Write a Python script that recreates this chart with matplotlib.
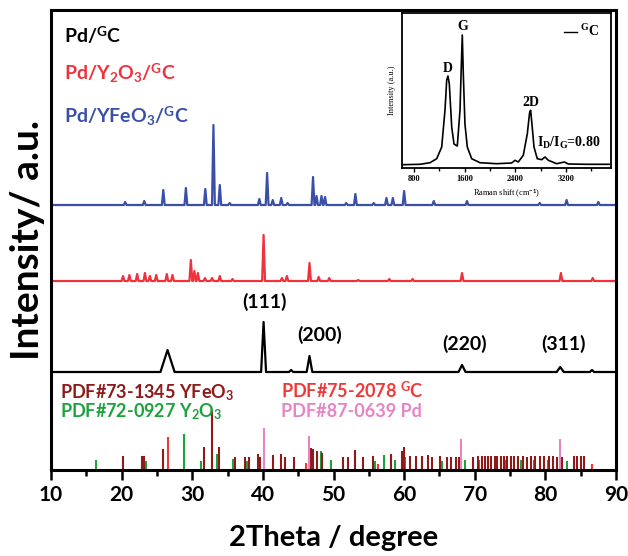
import numpy as np
import matplotlib.pyplot as plt
from matplotlib.ticker import MultipleLocator

plt.rcParams['font.family'] = ['Lato', 'DejaVu Sans']
plt.rcParams['font.weight'] = 'bold'
plt.rcParams['mathtext.fontset'] = 'custom'
plt.rcParams['mathtext.rm'] = 'Lato:bold'
plt.rcParams['mathtext.bf'] = 'Lato:bold'
plt.rcParams['mathtext.it'] = 'Liberation Serif:bold'

# XRD patterns: peak position (2theta) and peak height above baseline
blue_base = 265
blue_pos = [20.5, 23.2, 25.9, 29.1, 31.85, 33.0, 33.9, 35.3, 39.5, 40.6, 41.4, 42.6, 43.5,
            47.1, 47.6, 48.3, 48.8, 51.8, 53.1, 55.7, 57.5, 58.4, 60.0, 64.2, 68.9, 79.2,
            83.0, 87.5]
blue_h = [3, 4, 15, 17, 16, 80, 20, 2, 6, 32, 5, 7, 2,
          28, 9, 9, 8, 2, 11, 2, 7, 7, 14, 4, 4, 2,
          5, 3]

red_base = 189
red_pos = [20.2, 21.1, 22.2, 23.3, 24.0, 24.9, 26.4, 27.2, 29.8, 30.3, 30.8, 31.8, 32.8,
           33.9, 35.7, 40.1, 42.7, 43.4, 46.6, 47.9, 49.4, 53.5, 57.9, 61.2, 68.2, 82.2, 86.7]
red_h = [5, 6, 7, 8, 5, 6, 7, 6, 21, 10, 8, 3, 3,
         5, 2, 46, 3, 5, 18, 4, 3, 1, 2, 2, 8, 8, 3]

black_base = 98
black_pos = [26.5, 40.1, 44.0, 46.6, 68.2, 82.1, 86.6]
black_h = [22, 50, 2, 16, 7, 5, 2]
black_w = [1.0, 0.35, 0.3, 0.4, 0.5, 0.5, 0.3]

# reference cards
yfeo3_pos = [20.2, 22.9, 23.2, 25.8, 31.7, 32.85, 33.8, 36.0, 37.4, 38.1, 39.3, 39.6,
             41.4, 42.5, 43.1, 44.4, 46.8, 47.1, 47.7, 48.4, 51.4, 52.0, 53.0, 54.2,
             55.6, 58.1, 59.7, 60.0, 60.9, 61.7, 62.5, 63.4, 64.0, 65.1, 66.1, 66.7,
             67.3, 67.8, 69.8, 70.4, 71.0, 71.4, 71.9, 72.3, 72.8, 73.2, 73.7, 74.1,
             74.6, 75.1, 75.6, 76.1, 76.9, 77.4, 78.0, 78.6, 79.2, 79.8, 80.5, 81.1,
             81.6, 82.3, 84.0, 84.5, 85.0, 85.5]
yfeo3_h = [14, 14, 14, 21, 23, 60, 23, 13, 13, 13, 16, 13,
           15, 16, 13, 13, 22, 21, 19, 17, 13, 13, 20, 13,
           14, 16, 19, 23, 14, 14, 14, 15, 13, 14, 13, 13,
           13, 13, 13, 14, 14, 14, 14, 14, 14, 14, 14, 14,
           14, 14, 14, 14, 14, 13, 14, 14, 14, 14, 14, 14,
           13, 13, 14, 14, 14, 14]
y2o3_pos = [16.4, 23.5, 28.9, 31.2, 33.5, 35.7, 37.8, 43.1, 46.5, 48.2, 49.7, 55.9,
            57.2, 58.7, 60.1, 62.6, 65.3, 68.6, 70.6, 72.3, 74.3, 76.6, 78.4, 80.4, 83.1]
y2o3_h = [10, 9, 36, 9, 16, 11, 9, 10, 13, 19, 10, 9,
          15, 10, 13, 10, 9, 10, 10, 10, 10, 10, 10, 10, 9]
gc_pos = [26.5, 46.1, 56.3, 86.6]
gc_h = [33, 7, 6, 6]
pd_pos = [40.15, 46.6, 68.1, 82.1]
pd_h = [42, 34, 31, 31]

# Raman spectrum of GC (inset)
raman_x = [622, 895, 1052, 1158, 1237, 1289, 1316, 1336, 1357, 1395, 1431, 1483, 1526,
           1546, 1562, 1578, 1604, 1641, 1710, 1841, 2104, 2341, 2394, 2446, 2525, 2588,
           2626, 2641, 2662, 2694, 2746, 2815, 2868, 2920, 3053, 3173, 3236, 3526, 3889]
raman_y = [3.3, 3.7, 5.3, 9.3, 21, 58, 88, 92, 84, 41, 24, 22, 58,
           101, 133, 94, 44, 21, 9.3, 5.3, 4.3, 5, 7.7, 6, 12.7, 34,
           56, 57.7, 44, 21, 9.3, 8.3, 11, 7.7, 4.3, 6, 4, 3.7, 3.7]


def spikes(base, pos, h, w):
    xs, ys = [10], [base]
    for p, hh, ww in zip(pos, h, w):
        xs += [p - ww, p, p + ww]
        ys += [base, base + hh, base]
    xs.append(90)
    ys.append(base)
    return xs, ys


fig = plt.figure(figsize=(6.28, 5.56), dpi=100)
ax = fig.add_axes([51 / 628, 86 / 556, 565 / 628, 460 / 556])

bx, by = spikes(blue_base, blue_pos, blue_h, [0.2] * len(blue_pos))
rx, ry = spikes(red_base, red_pos, red_h, [0.2] * len(red_pos))
kx, ky = spikes(black_base, black_pos, black_h, black_w)
ax.plot(bx, by, color='#3a50a8', lw=1.6)
ax.plot(rx, ry, color='#f0323c', lw=1.6)
ax.plot(kx, ky, color='black', lw=1.6)

ax.vlines(y2o3_pos, 0, y2o3_h, color='#1ea23e', lw=1.5)
ax.vlines(gc_pos, 0, gc_h, color='#f03838', lw=1.5)
ax.vlines(yfeo3_pos, 0, yfeo3_h, color='#8e1a1a', lw=1.5)
ax.vlines(pd_pos, 0, pd_h, color='#e684c4', lw=1.5)

ax.set_xlim(10, 90)
ax.set_ylim(0, 460)
ax.set_yticks([])
ax.xaxis.set_major_locator(MultipleLocator(10))
ax.xaxis.set_minor_locator(MultipleLocator(5))
ax.tick_params(axis='x', which='major', direction='out', length=7, width=1.8, labelsize=15)
ax.tick_params(axis='x', which='minor', direction='out', length=4, width=1.8)
for s in ax.spines.values():
    s.set_linewidth(2.2)
ax.set_xlabel('2Theta / degree', fontsize=21, fontweight='bold', labelpad=15)
ax.set_ylabel('Intensity/ a.u.', fontsize=28, fontweight='bold', labelpad=4)

fs = 14
ax.text(11.8, 427, 'Pd/$^\\mathrm{G}$C', color='black', fontsize=fs)
ax.text(11.8, 390, 'Pd/Y$_2$O$_3$/$^\\mathrm{G}$C', color='#f0323c', fontsize=fs)
ax.text(11.8, 347, 'Pd/YFeO$_3$/$^\\mathrm{G}$C', color='#3a50a8', fontsize=fs)

ax.text(40.3, 168, '(111)', ha='center', va='center', fontsize=14)
ax.text(48.1, 135, '(200)', ha='center', va='center', fontsize=14)
ax.text(68.6, 126, '(220)', ha='center', va='center', fontsize=14)
ax.text(82.5, 126, '(311)', ha='center', va='center', fontsize=14)

pf = 13
ax.text(11.3, 72, 'PDF#73-1345 YFeO$_3$', color='#8e1a1a', fontsize=pf)
ax.text(11.3, 53, 'PDF#72-0927 Y$_2$O$_3$', color='#1ea23e', fontsize=pf)
ax.text(42.5, 72, 'PDF#75-2078 $^\\mathrm{G}$C', color='#f03838', fontsize=pf)
ax.text(42.5, 53, 'PDF#87-0639 Pd', color='#e684c4', fontsize=pf)

# inset
ins = fig.add_axes([402 / 628, (556 - 168) / 556, 209 / 628, 155 / 556])
ins.plot(raman_x, raman_y, color='black', lw=1.2)
ins.set_xlim(610, 3910)
ins.set_ylim(0, 155)
ins.set_yticks([])
ins.xaxis.set_major_locator(MultipleLocator(800))
ins.xaxis.set_minor_locator(MultipleLocator(400))
ins.tick_params(axis='x', which='major', direction='out', length=3, width=1, labelsize=6, pad=2)
ins.tick_params(axis='x', which='minor', direction='out', length=2, width=1)
for t in ins.get_xticklabels():
    t.set_fontfamily('Liberation Serif')
for s in ins.spines.values():
    s.set_linewidth(1.3)
ins.set_xlabel('Raman shift (cm$^{-1}$)', fontsize=6, family='Liberation Serif', labelpad=3)
ins.set_ylabel('Intensity (a.u.)', fontsize=6, family='Liberation Serif', labelpad=4)

sf = dict(family='Liberation Serif', fontweight='bold', ha='center', va='center')
ins.text(1325, 100, 'D', fontsize=10, **sf)
ins.text(1562, 141, 'G', fontsize=10, **sf)
ins.text(2637, 65, '2D', fontsize=10, **sf)
ins.text(2745, 25, '$I_D$/$I_G$=0.80', fontsize=10, family='Liberation Serif',
         fontweight='bold', va='center')
ins.plot([3174, 3380], [136, 136], color='black', lw=1)
ins.text(3427, 137, '$^G$C', fontsize=10, family='Liberation Serif', fontweight='bold',
         va='center')

fig.savefig('out.png', dpi=100)
